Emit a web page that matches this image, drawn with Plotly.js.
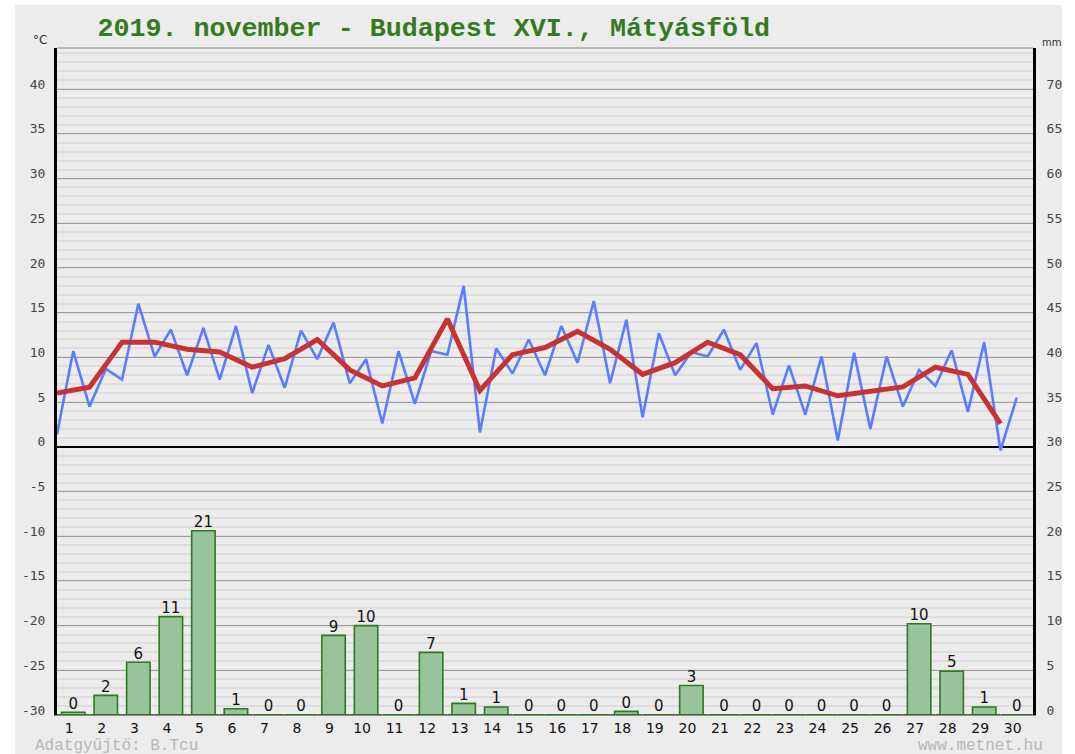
<!DOCTYPE html>
<html>
<head>
<meta charset="utf-8">
<script src="https://cdn.plot.ly/plotly-3.0.1.min.js"></script>
<style>html,body{margin:0;padding:0;background:#fff;}#chart{width:1075px;height:754px;}</style>
</head>
<body>
<div id="chart"></div>
<script>
// Days of the month
var days = [1,2,3,4,5,6,7,8,9,10,11,12,13,14,15,16,17,18,19,20,21,22,23,24,25,26,27,28,29,30];
var dayLabels = ['1','2','3','4','5','6','7','8','9','10','11','12','13','14','15','16','17','18','19','20','21','22','23','24','25','26','27','28','29','30'];

// Temperature readings (°C), twice a day (half-day positions)
var tempTimes = [0.5,1,1.5,2,2.5,3,3.5,4,4.5,5,5.5,6,6.5,7,7.5,8,8.5,9,9.5,10,10.5,11,11.5,12,12.5,13,13.5,14,14.5,15,15.5,16,16.5,17,17.5,18,18.5,19,19.5,20,20.5,21,21.5,22,22.5,23,23.5,24,24.5,25,25.5,26,26.5,27,27.5,28,28.5,29,29.5,30];
var tempValues = [1.4,10.7,4.5,8.7,7.5,16.0,10.1,13.1,8.0,13.3,7.5,13.5,6.0,11.4,6.6,13.0,9.8,13.9,7.1,9.8,2.6,10.7,4.8,10.7,10.3,18.0,1.6,11.0,8.2,12.0,8.0,13.5,9.4,16.3,7.1,14.2,3.3,12.7,8.0,10.6,10.1,13.1,8.6,11.6,3.6,9.1,3.6,10.1,0.7,10.5,2.0,10.1,4.5,8.6,6.8,10.8,3.9,11.7,-0.4,5.5];

// Daily mean temperature (°C)
var meanTimes = [0.5,1.5,2.5,3.5,4.5,5.5,6.5,7.5,8.5,9.5,10.5,11.5,12.5,13.5,14.5,15.5,16.5,17.5,18.5,19.5,20.5,21.5,22.5,23.5,24.5,25.5,26.5,27.5,28.5,29.5];
var meanValues = [6.0,6.65,11.7,11.7,10.9,10.6,8.9,9.85,12.0,8.6,6.8,7.7,14.3,6.3,10.3,11.1,12.9,10.9,8.1,9.4,11.7,10.3,6.5,6.8,5.7,6.2,6.7,8.9,8.1,2.6];

// Daily precipitation (mm) and the printed labels
var precipValues = [0.3,2.2,5.9,11.0,20.6,0.7,0,0,8.9,10.0,0,7.0,1.3,0.9,0,0,0,0.4,0,3.3,0,0,0,0,0,0,10.2,4.9,0.9,0];
var precipLabels = ['0','2','6','11','21','1','0','0','9','10','0','7','1','1','0','0','0','0','0','3','0','0','0','0','0','0','10','5','1','0'];

// Axis ticks
var tempTicks = [-30,-25,-20,-15,-10,-5,0,5,10,15,20,25,30,35,40];
var tempTickLabels = ['-30','-25','-20','-15','-10','-5','0','5','10','15','20','25','30','35','40'];
var precipTicks = [0,5,10,15,20,25,30,35,40,45,50,55,60,65,70];
var precipTickLabels = ['0','5','10','15','20','25','30','35','40','45','50','55','60','65','70'];

var green = '#2e7a1e';
var traces = [
  {
    type: 'bar', x: days, y: precipValues, yaxis: 'y2', width: 0.72,
    marker: {color: '#98c39b', line: {color: green, width: 1.6}},
    hoverinfo: 'skip'
  },
  {
    type: 'scatter', mode: 'markers', x: days, y: days.map(function(){return 0;}), yaxis: 'y2',
    marker: {symbol: 'line-ew', size: 23, line: {color: green, width: 2}},
    hoverinfo: 'skip', cliponaxis: false
  },
  {
    type: 'scatter', mode: 'text', x: days, y: precipValues, yaxis: 'y2',
    text: precipLabels, textposition: 'top center',
    textfont: {family: 'DejaVu Sans', size: 15, color: '#111'},
    hoverinfo: 'skip', cliponaxis: false
  },
  {
    type: 'scatter', mode: 'lines', x: tempTimes, y: tempValues,
    line: {color: '#5a7cff', width: 2.6}, hoverinfo: 'skip'
  },
  {
    type: 'scatter', mode: 'lines', x: meanTimes, y: meanValues,
    line: {color: '#c93232', width: 5}, hoverinfo: 'skip'
  }
];

var layout = {
  width: 1075, height: 754,
  margin: {l: 57, r: 42, t: 48, b: 39},
  paper_bgcolor: '#ffffff',
  plot_bgcolor: '#ebebeb',
  showlegend: false,
  title: {
    text: '<b>2019. november - Budapest XVI., Mátyásföld</b>',
    font: {family: 'Courier New, Liberation Mono, monospace', size: 26.7, color: '#357a1f'},
    xref: 'paper', x: 0.386, xanchor: 'center',
    yref: 'container', y: 0.964, yanchor: 'middle'
  },
  xaxis: {
    range: [0.5, 30.5], tickvals: days, ticktext: dayLabels,
    showgrid: false, zeroline: false, showline: true, linecolor: '#888', linewidth: 1,
    ticks: '', tickfont: {family: 'DejaVu Sans', size: 14, color: '#111'},
    ticklabelshift: -4, ticklabelstandoff: 0, fixedrange: true
  },
  yaxis: {
    range: [-30, 44.6], tickvals: tempTicks, ticktext: tempTickLabels,
    showgrid: true, gridcolor: '#9c9c9c', gridwidth: 1,
    minor: {dtick: 1, tick0: 0, showgrid: true, gridcolor: '#dddddd', gridwidth: 2, ticks: ''},
    zeroline: true, zerolinecolor: '#000', zerolinewidth: 2,
    showline: true, linecolor: '#000', linewidth: 3,
    ticks: '', tickfont: {family: 'DejaVu Sans Mono', size: 13, color: '#444'},
    ticklabelshift: -5, ticklabelstandoff: 6, fixedrange: true
  },
  yaxis2: {
    overlaying: 'y', side: 'right', range: [0, 74.6],
    tickvals: precipTicks, ticktext: precipTickLabels,
    showgrid: false, zeroline: false,
    showline: true, linecolor: '#000', linewidth: 3,
    ticks: '', tickfont: {family: 'DejaVu Sans Mono', size: 13, color: '#444'},
    ticklabelshift: -5, ticklabelstandoff: 8, fixedrange: true
  },
  shapes: [
    {type: 'rect', xref: 'paper', yref: 'paper', x0: -0.043, x1: 1.0297, y0: -0.06, y1: 1.0645,
     fillcolor: '#ececec', line: {width: 0}, layer: 'below'},
    {type: 'line', xref: 'paper', yref: 'paper', x0: 0, x1: 1, y0: 1, y1: 1,
     line: {color: '#888', width: 1}}
  ],
  annotations: [
    {text: '°C', xref: 'paper', yref: 'paper', x: -0.017, y: 1.012, xanchor: 'center', yanchor: 'middle',
     showarrow: false, font: {family: 'DejaVu Sans', size: 12, color: '#333'}},
    {text: 'mm', xref: 'paper', yref: 'paper', x: 1.019, y: 1.008, xanchor: 'center', yanchor: 'middle',
     showarrow: false, font: {family: 'DejaVu Sans', size: 10, color: '#333'}},
    {text: 'Adatgyűjtő: B.Tcu', xref: 'paper', yref: 'paper', x: -0.0246, y: -0.047, xanchor: 'left', yanchor: 'middle',
     showarrow: false, font: {family: 'Courier New, Liberation Mono, monospace', size: 16, color: '#b8b8b8'}},
    {text: 'www.metnet.hu', xref: 'paper', yref: 'paper', x: 1.0123, y: -0.047, xanchor: 'right', yanchor: 'middle',
     showarrow: false, font: {family: 'Courier New, Liberation Mono, monospace', size: 16, color: '#b8b8b8'}}
  ]
};

Plotly.newPlot('chart', traces, layout, {displayModeBar: false, staticPlot: true});
</script>
</body>
</html>
